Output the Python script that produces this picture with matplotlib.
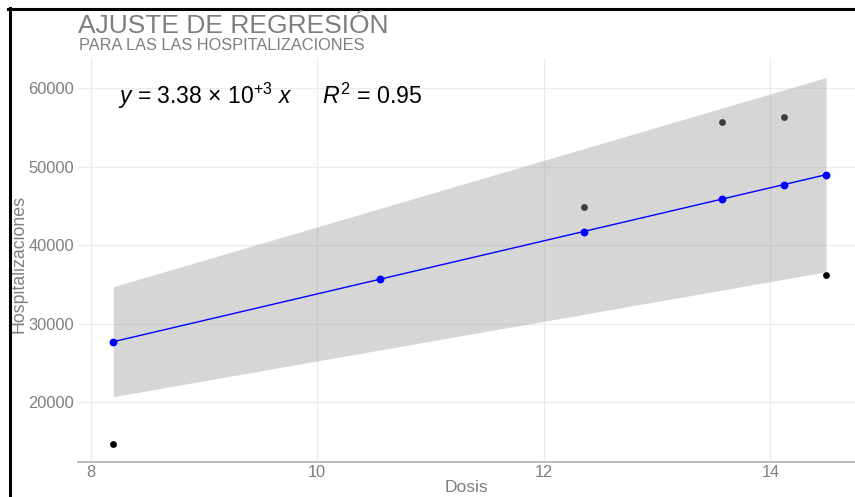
import numpy as np
import matplotlib
matplotlib.use("Agg")
import matplotlib.pyplot as plt
from matplotlib.lines import Line2D

# Observations: dose vs hospitalizations
dosis = [8.20, 10.55, 12.35, 13.57, 14.12, 14.49]
hospitalizaciones = [14670, 35660, 44860, 55670, 56300, 36290]

x_ticks = [8, 10, 12, 14]
y_ticks = [20000, 30000, 40000, 50000, 60000]

title = "AJUSTE DE REGRESIÓN"
subtitle = "PARA LAS LAS HOSPITALIZACIONES"

plt.rcParams["font.family"] = ["Liberation Sans", "DejaVu Sans"]
plt.rcParams["mathtext.fontset"] = "custom"
plt.rcParams["mathtext.rm"] = "Liberation Sans"
plt.rcParams["mathtext.it"] = "Liberation Sans:italic"
plt.rcParams["mathtext.bf"] = "Liberation Sans:bold"

x = np.array(dosis, dtype=float)
y = np.array(hospitalizaciones, dtype=float)

# Regression through the origin: y = b * x
b = np.sum(x * y) / np.sum(x * x)
fitted = b * x
resid = y - fitted
n = len(x)
s2 = np.sum(resid ** 2) / (n - 1)
se_b = np.sqrt(s2 / np.sum(x * x))
t_crit = 2.571  # t(0.975, df=5)
r2 = 1 - np.sum(resid ** 2) / np.sum(y ** 2)

order = np.argsort(x)
xs = x[order]
lower = (b - t_crit * se_b) * xs
upper = (b + t_crit * se_b) * xs

W, H = 855, 497
fig = plt.figure(figsize=(W / 100, H / 100), dpi=100)
fig.patch.set_facecolor("white")

left_px, right_px, top_px, bottom_px = 78, 855, 58, 462
ax = fig.add_axes([left_px / W, 1 - bottom_px / H,
                   (right_px - left_px) / W, (bottom_px - top_px) / H])

ax.set_xlim(7.888, 14.746)
ax.set_ylim(12404, 63875)

grid_col = "#ebebeb"
for xt in x_ticks:
    ax.axvline(xt, color=grid_col, lw=0.9, zorder=0)
for yt in y_ticks:
    ax.axhline(yt, color=grid_col, lw=0.9, zorder=0)

# raw points sit beneath the confidence band
ax.scatter(x, y, s=24, color="black", zorder=1, linewidths=0)
ax.fill_between(xs, lower, upper, color="#999999", alpha=0.4,
                linewidth=0, zorder=2)
ax.plot(xs, fitted[order], color="blue", lw=1.0, zorder=3)
ax.scatter(x, fitted, s=32, color="blue", zorder=4, linewidths=0)

ax.set_xticks(x_ticks)
ax.set_yticks(y_ticks)
ax.set_xticklabels([str(v) for v in x_ticks])
ax.set_yticklabels([str(v) for v in y_ticks])
ax.tick_params(axis="both", length=0, labelsize=11.8, colors="#7f7f7f")
ax.tick_params(axis="x", pad=2.5)
ax.tick_params(axis="y", pad=3)

for side in ["top", "right", "left"]:
    ax.spines[side].set_visible(False)
ax.spines["bottom"].set_color("#bdbdbd")
ax.spines["bottom"].set_linewidth(1.4)

ax.set_xlabel("Dosis", fontsize=12.5, color="#7f7f7f")
ax.set_ylabel("Hospitalizaciones", fontsize=12.8, color="#7f7f7f")
ax.xaxis.set_label_coords(0.5, -(488 - bottom_px) / (bottom_px - top_px))
ax.yaxis.set_label_coords(-(left_px - 19) / (right_px - left_px), 0.49)
ax.xaxis.label.set_va("center")
ax.yaxis.label.set_va("center")

coef = b / 1000
eq = (r"$y$ = %.2f $\times$ 10$^{+3}$ $x$" % coef)
ax.text(118 / W, 1 - 104 / H, eq, transform=fig.transFigure,
        fontsize=16.5, color="black", ha="left", va="baseline")
ax.text(322 / W, 1 - 104 / H, r"$R^2$ = %.2f" % r2, transform=fig.transFigure,
        fontsize=16.7, color="black", ha="left", va="baseline")

fig.text(78 / W, 1 - 33 / H, title, fontsize=19, color="#7f7f7f",
         ha="left", va="baseline")
fig.text(79 / W, 1 - 50.5 / H, subtitle, fontsize=11.8, color="#7f7f7f",
         ha="left", va="baseline")

# frame edges along the top and left
fig.add_artist(Line2D([8 / W, 1], [1 - 9 / H, 1 - 9 / H],
                      transform=fig.transFigure, color="black", lw=2.2))
fig.add_artist(Line2D([10 / W, 10 / W], [0, 1 - 8 / H],
                      transform=fig.transFigure, color="black", lw=2.2))

fig.savefig("out.png", dpi=100)
